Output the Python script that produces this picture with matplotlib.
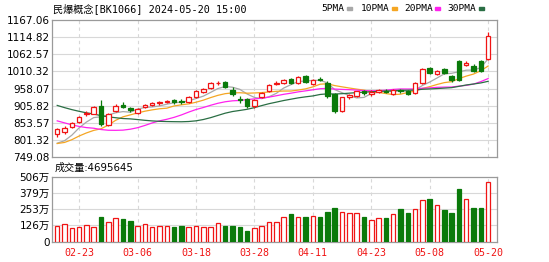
import numpy as np
import pandas as pd
import matplotlib
matplotlib.use("Agg")
import matplotlib.pyplot as plt

# ---- data ----
dates = ["02-20", "02-21", "02-22", "02-23", "02-26", "02-27", "02-28", "02-29", "03-01",
         "03-04", "03-05", "03-06", "03-07", "03-08", "03-11", "03-12", "03-13", "03-14",
         "03-15", "03-18", "03-19", "03-20", "03-21", "03-22", "03-25", "03-26", "03-27",
         "03-28", "03-29", "04-01", "04-02", "04-03", "04-08", "04-09", "04-10", "04-11",
         "04-12", "04-15", "04-16", "04-17", "04-18", "04-19", "04-22", "04-23", "04-24",
         "04-25", "04-26", "04-29", "04-30", "05-06", "05-07", "05-08", "05-09", "05-10",
         "05-13", "05-14", "05-15", "05-16", "05-17", "05-20"]
tick_dates = ["02-23", "03-06", "03-18", "03-28", "04-11", "04-23", "05-08", "05-20"]

opens = [819, 826, 842, 857, 880, 882, 904, 847, 890, 907, 900, 884, 902, 907, 913, 916, 922, 921,
         918, 934, 949, 960, 974, 978, 955, 928, 927, 904, 933, 950, 973, 976, 988, 975, 996, 971,
         988, 976, 942, 890, 932, 937, 950, 943, 947, 952, 943, 953, 952, 945, 975, 1020, 1003,
         1018, 996, 985, 1037, 1028, 1011, 1048]
closes = [834, 838, 854, 872, 884, 902, 850, 882, 905, 902, 893, 897, 907, 913, 917, 920, 918, 917,
          933, 952, 956, 975, 976, 964, 941, 924, 904, 924, 945, 970, 976, 984, 976, 993, 978, 985,
          985, 937, 890, 932, 940, 950, 945, 949, 954, 949, 953, 950, 942, 975, 1018, 1006, 1011,
          1006, 983, 1041, 1030, 1013, 1043, 1118]
highs = [837, 844, 858, 874, 890, 905, 922, 884, 912, 916, 903, 900, 910, 916, 919, 925, 926, 928,
         935, 955, 959, 978, 982, 982, 964, 935, 930, 926, 948, 972, 982, 987, 990, 996, 1000, 988,
         994, 980, 946, 934, 943, 952, 955, 954, 957, 958, 956, 956, 954, 978, 1020, 1024, 1014,
         1022, 1000, 1044, 1043, 1032, 1046, 1129]
lows = [810, 820, 838, 852, 876, 880, 845, 843, 886, 898, 888, 880, 898, 904, 908, 914, 912, 912,
        915, 930, 946, 957, 969, 960, 936, 915, 900, 900, 930, 947, 970, 972, 972, 972, 975, 968,
        982, 930, 885, 888, 928, 934, 940, 936, 944, 945, 940, 946, 940, 943, 972, 1002, 1000,
        1002, 978, 982, 1026, 1010, 1008, 1045]
# closes before 02-20, only needed so the moving averages start where the picture does
prior_closes = [1040, 1035, 1028, 1020, 1012, 1000, 990, 985, 975, 925,
                960, 975, 968, 955, 940, 930, 925, 910, 890, 837,
                805, 770, 760, 790, 825, 800, 770, 760, 796]
volumes = [122, 138, 109, 117, 127, 117, 195, 153, 182, 174, 158, 122, 135, 117, 122, 122, 114, 122,
           117, 122, 117, 112, 143, 125, 122, 114, 86, 109, 122, 153, 153, 189, 213, 189, 195, 197,
           189, 234, 260, 231, 221, 221, 189, 169, 182, 182, 213, 254, 226, 254, 324, 337, 285, 247,
           221, 415, 330, 262, 262, 469.5645]
up_days = [True] * 6 + [False] + [True] * 2 + [False] * 2 + [True] * 5 + [False] * 2 + [True] * 5 \
    + [False] * 4 + [True] * 5 + [False] + [True] + [False] + [True] + [False] * 3 + [True] * 3 \
    + [False] + [True] * 2 + [False] + [True] + [False] * 2 + [True] * 2 + [False] + [True] \
    + [False] * 3 + [True] + [False] * 2 + [True] * 2

price_ticks = [749.08, 801.32, 853.57, 905.82, 958.07, 1010.32, 1062.57, 1114.82, 1167.06]
vol_ticks = [0, 126.5, 253, 379.5, 506]
vol_labels = ["0", "126万", "253万", "379万", "506万"]
ma_names = ["5PMA", "10PMA", "20PMA", "30PMA"]
ma_windows = [5, 10, 20, 30]

# ---- style ----
RED = "#f01414"
GREEN = "#0a7a0a"
MA_COLORS = ["#a8a8a8", "#f5a623", "#ff22ee", "#2a6e44"]
GRID = "#d8d8d8"
EDGE = "#9a9a9a"
CJK = ["DejaVu Sans", "Noto Sans CJK SC"]
MONO = ["DejaVu Sans Mono", "Noto Sans CJK SC"]

x = np.arange(len(dates))
tick_idx = [dates.index(d) for d in tick_dates]

fig = plt.figure(figsize=(5.49, 2.62), dpi=100)
ax = fig.add_axes([0.0956, 0.3996, 0.8088, 0.5241])
axv = fig.add_axes([0.0956, 0.0782, 0.8088, 0.2462])

for a in (ax, axv):
    a.set_xlim(-0.65, len(dates) + 0.15)
    for s in a.spines.values():
        s.set_color(EDGE)
        s.set_linewidth(0.9)
    for t in tick_idx:
        a.axvline(t, color=GRID, lw=0.8, ls=(0, (3, 3)), zorder=0)
    a.tick_params(length=0, labelsize=7.5, pad=2)

# price panel
ax.set_ylim(price_ticks[0], price_ticks[-1])
ax.set_yticks(price_ticks)
ax.set_yticklabels([f"{v:.2f}" for v in price_ticks])
for v in price_ticks[1:-1]:
    ax.axhline(v, color=GRID, lw=0.8, zorder=0)
ax.set_xticks([])

full = pd.Series(prior_closes + closes)
for name, n, col in zip(ma_names, ma_windows, MA_COLORS):
    ma = full.rolling(n).mean().values[len(prior_closes):]
    ax.plot(x, ma, color=col, lw=0.9, zorder=2)

w = 0.62
for i in x:
    o, c, h, l = opens[i], closes[i], highs[i], lows[i]
    col = RED if up_days[i] else GREEN
    ax.vlines(i, l, h, color=col, lw=0.9, zorder=3)
    body = max(abs(c - o), 1.2)
    ax.bar(i, body, bottom=min(o, c), width=w, color="white" if up_days[i] else GREEN,
           edgecolor=col, linewidth=0.9, zorder=4)

# volume panel
axv.set_ylim(0, 506)
axv.set_yticks(vol_ticks)
axv.set_yticklabels(vol_labels, family=CJK)
for v in vol_ticks[1:-1]:
    axv.axhline(v, color=GRID, lw=0.8, zorder=0)
axv.bar(x, volumes, width=w, color=["white" if u else GREEN for u in up_days],
        edgecolor=[RED if u else GREEN for u in up_days], linewidth=0.9, zorder=3)
axv.set_xticks(tick_idx)
axv.set_xticklabels(tick_dates, color=RED, family=MONO, fontsize=7.2)
axv.tick_params(axis="x", pad=5)

# texts
fig.text(0.097, 0.968, "民爆概念[BK1066] 2024-05-20 15:00", family=MONO, fontsize=7.3,
         va="center", ha="left")
fig.text(0.099, 0.358, "成交量:%d" % round(volumes[-1] * 10000), family=CJK, fontsize=7.3,
         va="center", ha="left")
leg_x = [0.586, 0.657, 0.736, 0.815]
for lx, name, col in zip(leg_x, ma_names, MA_COLORS):
    fig.text(lx, 0.968, name, family=MONO, fontsize=6.8, va="center", ha="left")
    fig.patches.append(plt.Rectangle((lx + 0.046 + 0.011 * (len(name) - 4), 0.962), 0.009, 0.011,
                                     transform=fig.transFigure, color=col))

fig.savefig("out.png", dpi=100)
